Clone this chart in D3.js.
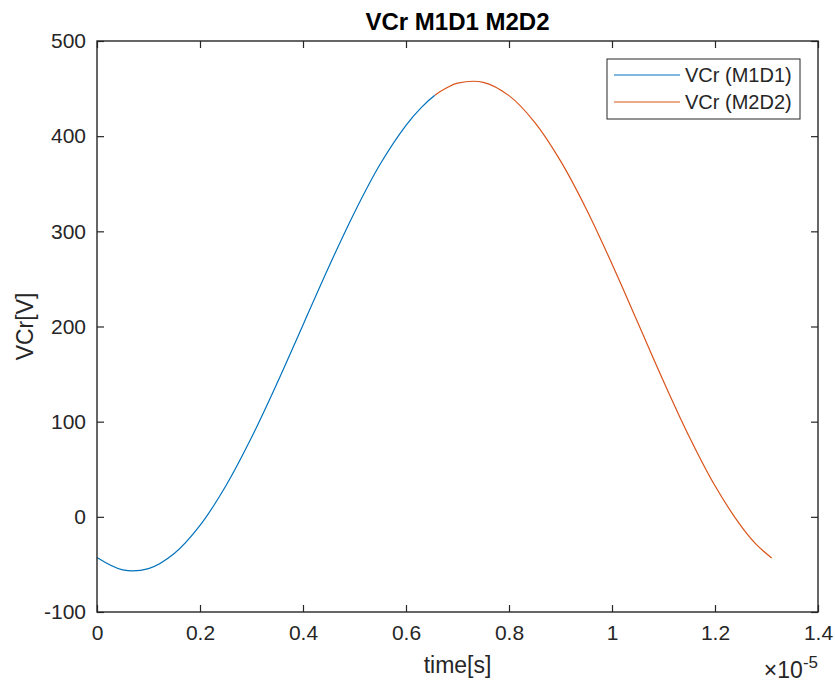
<!DOCTYPE html>
<html>
<head>
<meta charset="utf-8">
<script src="https://cdn.jsdelivr.net/npm/d3@7"></script>
<style>
  body { margin: 0; background: #fff; }
  text { font-family: "Liberation Sans", Arial, Helvetica, sans-serif; fill: #262626; }
</style>
</head>
<body>
<script>
// time axis in units of 1e-5 s
var timeM1D1 = [0, 0.05, 0.10, 0.15, 0.20, 0.25, 0.30, 0.35, 0.40, 0.45, 0.50, 0.55, 0.60, 0.63, 0.656];
var vcrM1D1  = [-42.8, -55.8, -54.4, -38.5, -9.0, 32.4, 83.3, 140.8, 201.7, 262.6, 319.9, 370.7, 411.4, 430.3, 442.9];

var timeM2D2 = [0.656, 0.68, 0.70, 0.75, 0.80, 0.85, 0.90, 0.95, 1.00, 1.05, 1.10, 1.15, 1.20, 1.25, 1.28, 1.31];
var vcrM2D2  = [442.9, 451.1, 455.7, 456.6, 442.6, 414.5, 374.0, 323.5, 265.7, 204.2, 142.5, 84.2, 32.6, -9.3, -29.0, -43.2];

var xTicks = [0, 0.2, 0.4, 0.6, 0.8, 1, 1.2, 1.4];
var yTicks = [-100, 0, 100, 200, 300, 400, 500];
var seriesNames = ["VCr (M1D1)", "VCr (M2D2)"];
var seriesColors = ["#0072BD", "#D95319"];

var W = 835, H = 686;
var margin = {top: 41, right: 17, bottom: 74, left: 97};
var width = W - margin.left - margin.right,
    height = H - margin.top - margin.bottom;

var svg = d3.select("body").append("svg")
    .attr("width", W)
    .attr("height", H);

var g = svg.append("g")
    .attr("transform", "translate(" + margin.left + "," + margin.top + ")");

var x = d3.scaleLinear().domain([0, 1.4]).range([0, width]);
var y = d3.scaleLinear().domain([-100, 500]).range([height, 0]);

var axisColor = "#262626";

// the two series join into one smooth curve; each colour is clipped to its own time span
var line = d3.line()
    .x(function(d) { return x(d[0]); })
    .y(function(d) { return y(d[1]); })
    .curve(d3.curveCatmullRom.alpha(0.5));

var joined = d3.zip(timeM1D1, vcrM1D1).concat(d3.zip(timeM2D2, vcrM2D2).slice(1));
var spans = [
  [timeM1D1[0], timeM1D1[timeM1D1.length - 1]],
  [timeM2D2[0], timeM2D2[timeM2D2.length - 1]]
];

var defs = svg.append("defs");
spans.forEach(function(sp, i) {
  defs.append("clipPath").attr("id", "clip" + i)
    .append("rect")
      .attr("x", i === 0 ? -5 : x(sp[0]))
      .attr("y", -5)
      .attr("width", i === 0 ? x(sp[1]) + 5 : width - x(sp[0]) + 5)
      .attr("height", height + 10);
  g.append("path")
    .datum(joined)
    .attr("clip-path", "url(#clip" + i + ")")
    .attr("fill", "none")
    .attr("stroke", seriesColors[i])
    .attr("stroke-width", 1.2)
    .attr("d", line);
});

// axes (ticks inward, box on)
function styleAxis(sel) {
  sel.select(".domain").remove();
  sel.selectAll(".tick line").attr("stroke", axisColor).attr("stroke-width", 1.2);
  sel.selectAll(".tick text").style("font-size", "21px").attr("fill", axisColor);
}

g.append("g")
    .attr("transform", "translate(0," + height + ")")
    .call(d3.axisBottom(x).tickValues(xTicks).tickSize(-7).tickPadding(13)
      .tickFormat(function(d) { return String(d); }))
    .call(styleAxis);

g.append("g")
    .call(d3.axisTop(x).tickValues(xTicks).tickSize(-7).tickFormat(""))
    .call(styleAxis);

g.append("g")
    .call(d3.axisLeft(y).tickValues(yTicks).tickSize(-7).tickPadding(11)
      .tickFormat(function(d) { return String(d); }))
    .call(styleAxis);

g.append("g")
    .attr("transform", "translate(" + width + ",0)")
    .call(d3.axisRight(y).tickValues(yTicks).tickSize(-7).tickFormat(""))
    .call(styleAxis);

g.selectAll(".tick text").attr("font-family", null);

g.append("rect")
    .attr("width", width)
    .attr("height", height)
    .attr("fill", "none")
    .attr("stroke", axisColor)
    .attr("stroke-width", 1.4);

// title and labels
svg.append("text")
    .attr("x", margin.left + width / 2)
    .attr("y", 30)
    .attr("text-anchor", "middle")
    .style("font-size", "24px")
    .style("font-weight", "bold")
    .style("fill", "#000")
    .text("VCr M1D1 M2D2");

svg.append("text")
    .attr("x", margin.left + width / 2)
    .attr("y", 673)
    .attr("text-anchor", "middle")
    .style("font-size", "23px")
    .text("time[s]");

svg.append("text")
    .attr("transform", "translate(33," + (margin.top + height / 2) + ") rotate(-90)")
    .attr("text-anchor", "middle")
    .style("font-size", "23px")
    .text("VCr[V]");

// exponent label
var expo = svg.append("text")
    .attr("x", margin.left + width)
    .attr("y", 678)
    .attr("text-anchor", "end")
    .style("font-size", "23px");
expo.append("tspan").text("\u00d710");
expo.append("tspan").attr("dy", -10).style("font-size", "17px").text("-5");

// legend
var leg = svg.append("g").attr("transform", "translate(607,59)");
leg.append("rect")
    .attr("width", 193)
    .attr("height", 60)
    .attr("fill", "#fff")
    .attr("stroke", axisColor)
    .attr("stroke-width", 1);

seriesNames.forEach(function(name, i) {
  var yy = 16 + i * 27;
  leg.append("line")
    .attr("x1", 7).attr("x2", 73)
    .attr("y1", yy).attr("y2", yy)
    .attr("stroke", seriesColors[i])
    .attr("stroke-width", 1.2);
  leg.append("text")
    .attr("x", 78)
    .attr("y", yy)
    .attr("dy", "0.35em")
    .style("font-size", "20px")
    .text(name);
});
</script>
</body>
</html>
